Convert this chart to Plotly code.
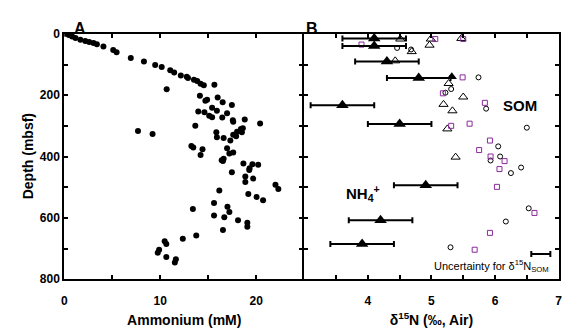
import plotly.graph_objects as go

# Panel A: ammonium concentration (mM) vs depth (mbsf)
amm_conc = [0.14, 0.48, 0.82, 1.17, 1.68, 2.19, 2.6, 3.05, 3.4, 4.08, 5.1, 5.45, 6.93, 8.3, 9.47,
            10.15, 11.04, 11.45, 12.14, 12.76, 12.89, 13.51, 13.85, 14.2, 14.54, 10.67, 15.64,
            14.13, 14.88, 14.7, 15.98, 16.5, 17.46, 13.96, 14.6, 15.4, 15.9, 16.96, 15.1, 15.4,
            16.46, 17.56, 17.6, 18.8, 20.4, 7.68, 9.2, 13.65, 15.84, 15.9, 16.6, 17.3, 17.6, 18.0,
            18.4, 18.6, 18.5, 17.9, 13.24, 13.44, 14.4, 14.2, 16.96, 17.6, 17.2, 16.6, 16.4,
            18.66, 19.6, 20.2, 19.3,
            16.53, 19.27, 17.46, 18.86, 19.68, 18.86, 22.0, 22.3, 16.15, 19.17, 20.03, 20.71,
            15.6, 17.0, 13.4, 17.2, 15.6, 16.67, 18.1, 19.07, 19.07, 16.53, 13.75, 12.35, 10.46,
            10.63, 9.88, 9.74, 10.63, 11.63, 11.52]
amm_depth = [0, 4, 9, 14, 19, 23, 27, 30, 34, 41, 53, 60, 79, 90, 102,
             108, 119, 126, 136, 140, 144, 150, 154, 163, 168, 181, 166,
             202, 215, 218, 208, 223, 232, 253, 256, 241, 251, 259, 267, 272,
             273, 282, 287, 279, 292, 317, 327, 300, 321, 337, 340, 348, 329, 319,
             310, 308, 321, 334, 366, 371, 376, 395, 373, 387, 390, 407, 412,
             423, 425, 427, 438,
             415, 444, 451, 465, 472, 483, 492, 506, 511, 522, 532, 543,
             552, 564, 571, 581, 592, 598, 608, 616, 629, 640, 658, 668, 676,
             685, 704, 714, 728, 735, 746]

# Panel B: NH4+ d15N with uncertainty
nh4_d15n = [4.1, 4.1, 4.3, 4.8, 3.6, 4.5, 4.91, 4.2, 3.91]
nh4_depth = [15, 40, 90, 144, 233, 294, 494, 608, 685]
nh4_err = [0.5, 0.5, 0.5, 0.5, 0.5, 0.5, 0.5, 0.5, 0.5]
nh4_extra_d15n = [5.32]
nh4_extra_depth = [140]

# SOM d15N, three symbol groups
som_tri_d15n = [4.51, 4.99, 5.47, 4.97, 4.69, 4.43, 5.27, 5.5, 5.19, 5.33, 5.25, 5.38]
som_tri_depth = [17, 17, 15, 37, 58, 88, 162, 206, 230, 251, 310, 402]
som_circ_d15n = [4.46, 4.68, 5.74, 5.31, 5.22, 5.86, 6.5, 6.05, 6.08, 5.93, 6.41, 6.25, 6.53, 6.17, 5.3]
som_circ_depth = [46, 51, 142, 180, 192, 244, 306, 367, 400, 413, 436, 454, 569, 612, 696]
som_sq_d15n = [3.9, 5.06, 5.5, 5.49, 5.18, 5.84, 5.31, 5.6, 5.92, 5.75, 5.93, 6.15, 6.07, 6.03, 6.62, 5.92, 5.68]
som_sq_depth = [35, 17, 17, 142, 194, 225, 300, 293, 348, 379, 400, 415, 441, 499, 584, 649, 704]

# Uncertainty scale bar for SOM
unc_d15n = [6.72]
unc_depth = [718]
unc_err = [0.15]

depth_ticks = [100, 200, 300, 400, 500, 600, 700]

FONT = "Liberation Sans, Arial, sans-serif"

fig = go.Figure()

fig.add_trace(go.Scatter(x=amm_conc, y=amm_depth, mode="markers",
                         marker=dict(symbol="circle", size=6, color="black"),
                         xaxis="x", yaxis="y", showlegend=False))

fig.add_trace(go.Scatter(x=som_tri_d15n, y=som_tri_depth, mode="markers",
                         marker=dict(symbol="triangle-up-open", size=8, color="black",
                                     line=dict(width=1, color="black")),
                         xaxis="x2", yaxis="y2", showlegend=False))
fig.add_trace(go.Scatter(x=som_circ_d15n, y=som_circ_depth, mode="markers",
                         marker=dict(symbol="circle-open", size=5, color="black",
                                     line=dict(width=1, color="black")),
                         xaxis="x2", yaxis="y2", showlegend=False))
fig.add_trace(go.Scatter(x=som_sq_d15n, y=som_sq_depth, mode="markers",
                         marker=dict(symbol="square-open", size=5, color="#8a2a9c",
                                     line=dict(width=1, color="#8a2a9c")),
                         xaxis="x2", yaxis="y2", showlegend=False))

fig.add_trace(go.Scatter(x=nh4_d15n, y=nh4_depth, mode="markers",
                         marker=dict(symbol="triangle-up", size=11, color="black"),
                         error_x=dict(type="data", array=nh4_err, visible=True,
                                      color="black", thickness=2, width=3),
                         xaxis="x2", yaxis="y2", showlegend=False))
fig.add_trace(go.Scatter(x=nh4_extra_d15n, y=nh4_extra_depth, mode="markers",
                         marker=dict(symbol="triangle-up", size=9, color="black"),
                         xaxis="x2", yaxis="y2", showlegend=False))

fig.add_trace(go.Scatter(x=unc_d15n, y=unc_depth, mode="markers",
                         marker=dict(size=1, color="rgba(0,0,0,0)"),
                         error_x=dict(type="data", array=unc_err, visible=True,
                                      color="black", thickness=2, width=3),
                         xaxis="x2", yaxis="y2", showlegend=False))

# invisible trace to carry the outward tick axis on B's left edge
fig.add_trace(go.Scatter(x=[None], y=[None], mode="markers", xaxis="x2", yaxis="y3",
                         showlegend=False, hoverinfo="skip"))

W, H = 572, 336
xa0, xa1 = 62 / W, 305 / W
xb0, xb1 = 305 / W, 562.5 / W
y0, y1 = (H - 284) / H, (H - 28) / H

tickfont = dict(family=FONT, size=12, color="black", weight="bold")
titlefont = dict(family=FONT, size=14, color="black", weight="bold")
common = dict(showgrid=False, zeroline=False, showline=True, linecolor="black",
              linewidth=2, ticks="inside", tickcolor="black", tickwidth=1.5,
              ticklen=4, tickfont=tickfont)

fig.update_layout(
    width=W, height=H,
    margin=dict(l=0, r=0, t=0, b=0),
    paper_bgcolor="white", plot_bgcolor="white",
    font=dict(family=FONT, color="black"),
    xaxis=dict(domain=[xa0, xa1], range=[0, 25], anchor="y", mirror="ticks",
               tickvals=[0, 5, 10, 15, 20], ticktext=["0", "", "10", "", "20"],
               ticklabelstandoff=9,
               title=dict(text="Ammonium (mM)", font=titlefont, standoff=9), **common),
    yaxis=dict(domain=[y0, y1], range=[800, 0], anchor="x", mirror=False,
               tickvals=[0, 100, 200, 300, 400, 500, 600, 700, 800],
               ticktext=["0", "", "200", "", "400", "", "600", "", "800"],
               **common),
    xaxis2=dict(domain=[xb0, xb1], range=[3, 7], anchor="y2", mirror="ticks",
                tickvals=[3.5, 4, 4.5, 5, 5.5, 6, 6.5, 7],
                ticktext=["", "4", "", "5", "", "6", "", "7"],
                ticklabelstandoff=9,
                title=dict(text="δ<sup>15</sup>N (‰, Air)", font=titlefont, standoff=9), **common),
    yaxis2=dict(domain=[y0, y1], range=[800, 0], anchor="x2", mirror="ticks",
                tickvals=depth_ticks, showticklabels=False, **common),
    yaxis3=dict(domain=[y0, y1], range=[800, 0], anchor="x2", overlaying="y2", side="left",
                showline=False, showgrid=False, zeroline=False, ticks="outside",
                tickcolor="black", tickwidth=1.5, ticklen=4,
                tickvals=depth_ticks, showticklabels=False),
)

annots = [
    dict(text="Depth (mbsf)", x=15 / W, y=(H - 156) / H, xref="paper", yref="paper",
         textangle=-90, font=titlefont),
    dict(text="A", x=xa0 + 8 / W, y=(H - 12) / H, xref="paper", yref="paper",
         font=dict(family=FONT, size=16, weight="bold", color="black")),
    dict(text="B", x=xb0 + 8 / W, y=(H - 12) / H, xref="paper", yref="paper",
         font=dict(family=FONT, size=16, weight="bold", color="black")),
    dict(text="SOM", x=6.4, y=233, xref="x2", yref="y2",
         font=dict(family=FONT, size=15, weight="bold", color="black")),
    dict(text="NH<sub>4</sub><sup>+</sup>", x=3.92, y=520, xref="x2", yref="y2",
         font=dict(family=FONT, size=15, weight="bold", color="black")),
    dict(text="Uncertainty for δ<sup>15</sup>N<sub>SOM</sub>", x=6.88, y=758, xref="x2", yref="y2",
         xanchor="right", font=dict(family=FONT, size=11, color="black")),
]
for a in annots:
    fig.add_annotation(showarrow=False, **a)

fig.write_html("out.html")
